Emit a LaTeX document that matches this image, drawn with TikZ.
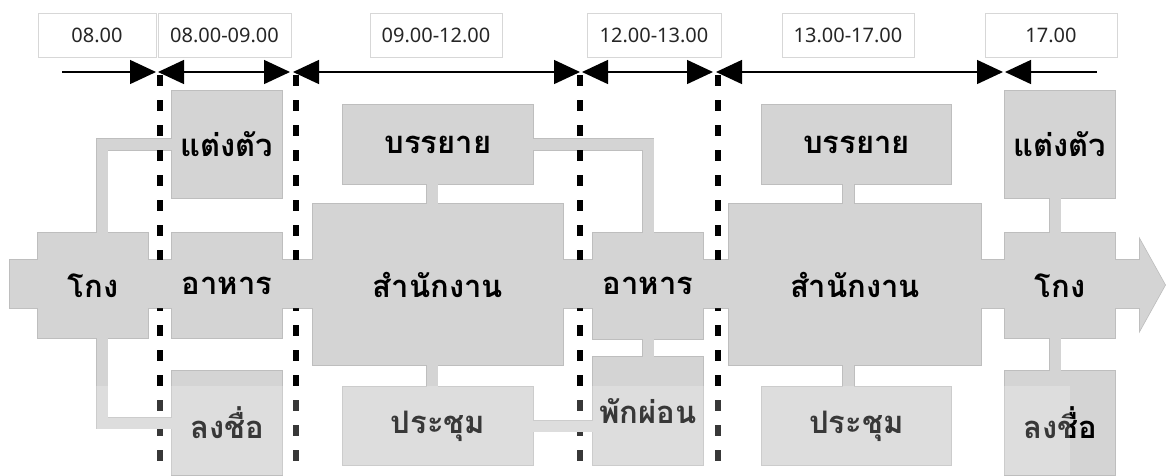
\documentclass[tikz,border=0pt]{standalone}
\usepackage{fontspec}
\setmainfont{Noto Sans}
\newfontfamily\thaifont[Script=Thai]{Loma}
\usetikzlibrary{arrows.meta,backgrounds}

\definecolor{boxgray}{RGB}{212,212,212}
\definecolor{edgegray}{RGB}{190,190,190}
\definecolor{tagedge}{RGB}{215,215,215}

% connectors between the activity boxes (drawn twice: rim, then body)
\newcommand\linkpaths[1]{%
  \draw[#1] ([xshift=9pt]kong1.north) |- (dress1.west);
  \draw[#1] ([xshift=9pt]kong1.south) |- (sign1.west);
  \draw[#1] ([xshift=-6pt]lect1.south) -- ([xshift=-6pt]office1.north);
  \draw[#1] ([xshift=-6pt]office1.south) -- ([xshift=-6pt]meet1.north);
  \draw[#1] (lect1.east) -| (food2.north);
  \draw[#1] (food2.south) -- (rest.north);
  \draw[#1] (meet1.east) -- (meet1.east -| rest.west);
  \draw[#1] ([xshift=-8pt]lect2.south) -- ([xshift=-8pt]lect2.south |- office2.north);
  \draw[#1] ([xshift=-8pt]meet2.north) -- ([xshift=-8pt]meet2.north |- office2.south);
  \draw[#1] ([xshift=-5pt]dress2.south) -- ([xshift=-5pt]kong2.north);
  \draw[#1] ([xshift=-5pt]kong2.south) -- ([xshift=-5pt]sign2.north);
}
\newcommand\flowband[1]{%
  \path[#1] (10,260) -- (1140,260) -- (1140,240) -- (1165,285)
    -- (1140,330) -- (1140,308) -- (10,308) -- cycle;
}

\begin{document}
\begin{tikzpicture}[x=1pt, y=-1pt,
  >={Triangle[length=26pt, width=24pt]},
  blk/.style={rectangle, fill=boxgray, inner sep=0pt,
              font=\thaifont\bfseries\fontsize{31}{36}\selectfont},
  tag/.style={rectangle, draw=tagedge, line width=0.8pt, fill=white, inner sep=0pt,
              minimum height=44pt, font=\fontsize{20}{24}\selectfont, text=black!85},
  rim/.style={draw=edgegray, line width=1.6pt},
  link/.style={draw=boxgray, line width=11pt},
  linkrim/.style={draw=edgegray, line width=12.6pt},
  cutline/.style={draw=black, line width=6pt, dash pattern=on 11pt off 14pt},
  tl/.style={line width=1.4pt},
]
\useasboundingbox (0,0) rectangle (1166,475);

% time labels
\node[tag, minimum width=118pt] (lbl1) at (97,35) {08.00};
\node[tag, minimum width=133pt] (lbl2) at (224.5,35) {08.00-09.00};
\node[tag, minimum width=132pt] (lbl3) at (436,35) {09.00-12.00};
\node[tag, minimum width=134pt] (lbl4) at (654,35) {12.00-13.00};
\node[tag, minimum width=132pt] (lbl5) at (848,35) {13.00-17.00};
\node[tag, minimum width=132pt] (lbl6) at (1051,35) {17.00};

% time arrows
\coordinate (s0) at (62,72);
\coordinate (e1) at (156,72);   \coordinate (s1) at (158,72);
\coordinate (e2) at (290,72);   \coordinate (s2) at (293,72);
\coordinate (e3) at (580,72);   \coordinate (s3) at (582,72);
\coordinate (e4) at (713,72);   \coordinate (s4) at (716,72);
\coordinate (e5) at (1003,72);  \coordinate (s5) at (1005,72);
\coordinate (e6) at (1097,72);
\draw[tl, ->] (s0) -- (e1);
\draw[tl, <->] (s1) -- (e2);
\draw[tl, <->] (s2) -- (e3);
\draw[tl, <->] (s3) -- (e4);
\draw[tl, <->] (s4) -- (e5);
\draw[tl, <-] (s5) -- (e6);

% period borders
\foreach \x in {160,296,580,718}
  \draw[cutline] (\x,75) -- (\x,475);

% flow band
\flowband{fill=boxgray}

% activities
\node[blk, minimum width=110pt, minimum height=105pt] (kong1) at (93,285.5) {โกง};
\node[blk, minimum width=110pt, minimum height=107pt] (dress1) at (227,144.5) {แต่งตัว};
\node[blk, minimum width=110pt, minimum height=105pt] (food1) at (227,285.5) {อาหาร};
\node[blk, minimum width=110pt, minimum height=104pt] (sign1) at (227,423) {ลงชื่อ};
\node[blk, minimum width=190pt, minimum height=79pt] (lect1) at (438,144.5) {บรรยาย};
\node[blk, minimum width=250pt, minimum height=161pt] (office1) at (438,284.5) {สำนักงาน};
\node[blk, minimum width=190pt, minimum height=78pt] (meet1) at (438,426) {ประชุม};
\node[blk, minimum width=110pt, minimum height=106pt] (food2) at (648,286) {อาหาร};
\node[blk, minimum width=110pt, minimum height=108pt] (rest) at (648,411) {พักผ่อน};
\node[blk, minimum width=189pt, minimum height=79pt] (lect2) at (856.5,144.5) {บรรยาย};
\node[blk, minimum width=252pt, minimum height=161pt] (office2) at (855,284.5) {สำนักงาน};
\node[blk, minimum width=189pt, minimum height=78pt] (meet2) at (856.5,426) {ประชุม};
\node[blk, minimum width=110pt, minimum height=107pt] (dress2) at (1060,144.5) {แต่งตัว};
\node[blk, minimum width=110pt, minimum height=105pt] (kong2) at (1060,285.5) {โกง};
\node[blk, minimum width=110pt, minimum height=104pt] (sign2) at (1060,423) {ลงชื่อ};

\linkpaths{link}

\begin{scope}[on background layer]
  \flowband{rim}
  \foreach \n in {kong1,dress1,food1,sign1,lect1,office1,meet1,food2,rest,
                  lect2,office2,meet2,dress2,kong2,sign2}
    \draw[rim] (\n.south west) rectangle (\n.north east);
  \linkpaths{linkrim}
\end{scope}

% faint reflection
\fill[white, opacity=0.22] (0,386) rectangle (1070,475);
\end{tikzpicture}
\end{document}
